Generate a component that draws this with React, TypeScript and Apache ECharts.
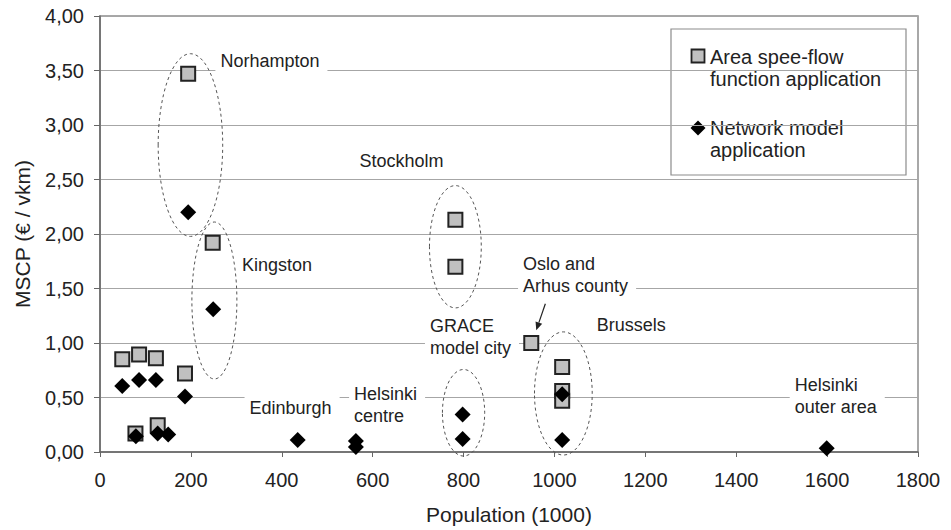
import React, { useEffect, useRef } from "react";
import * as echarts from "echarts";

const FONT = '"Liberation Sans", Arial, Helvetica, sans-serif';

// Area speed-flow function application (population in 1000, MSCP €/vkm)
const areaPoints: [number, number][] = [
  [194, 3.47],
  [248, 1.92],
  [782, 2.13],
  [782, 1.70],
  [949, 1.00],
  [1017, 0.78],
  [1017, 0.56],
  [1017, 0.47],
  [49, 0.85],
  [86, 0.895],
  [123, 0.86],
  [187, 0.72],
  [78, 0.17],
  [127, 0.245],
];

// Network model application
const networkPoints: [number, number][] = [
  [194, 2.20],
  [249, 1.31],
  [798, 0.345],
  [798, 0.12],
  [1017, 0.53],
  [1017, 0.11],
  [435, 0.11],
  [563, 0.10],
  [563, 0.045],
  [1599, 0.034],
  [49, 0.605],
  [86, 0.66],
  [123, 0.66],
  [187, 0.51],
  [79, 0.145],
  [127, 0.17],
  [150, 0.16],
];

// Dashed group ellipses: [centre x, centre y, radius x, radius y] in data units
const groupEllipses: number[][] = [
  [199, 2.816, 71, 0.838],
  [251.7, 1.39, 49.5, 0.72],
  [782, 1.883, 57, 0.561],
  [800, 0.36, 46.5, 0.397],
  [1019.6, 0.537, 63.5, 0.565],
];

// City labels, anchored (left edge, vertical centre) in data units
const cityLabels = [
  { name: "Norhampton", value: [252.8, 3.59] },
  { name: "Kingston", value: [300.5, 1.72] },
  { name: "Stockholm", value: [559, 2.667] },
  { name: "Oslo and\nArhus county", value: [918.8, 1.622] },
  { name: "GRACE\nmodel city", value: [714, 1.059] },
  { name: "Brussels", value: [1081, 1.163] },
  { name: "Edinburgh", value: [317, 0.406] },
  { name: "Helsinki\ncentre", value: [547, 0.427] },
  { name: "Helsinki\nouter area", value: [1516.6, 0.514] },
];

// Arrow from the Oslo label to its point: [x1, y1, x2, y2]
const arrows: number[][] = [[980, 1.36, 960, 1.117]];

const seriesNames = ["Area spee-flow\nfunction application", "Network model\napplication"];
const xAxisName = "Population (1000)";
const yAxisName = "MSCP (€ / vkm)";

export default function App() {
  const ref = useRef<HTMLDivElement>(null);

  useEffect(() => {
    document.body.style.margin = "0";
    if (!ref.current) return;
    const chart = echarts.init(ref.current, null, { renderer: "svg" });

    const option: any = {
      animation: false,
      backgroundColor: "#ffffff",
      textStyle: { fontFamily: FONT },
      grid: {
        left: 100,
        right: 33,
        top: 16,
        bottom: 78,
        show: true,
        borderColor: "#8c8c8c",
        borderWidth: 1.5,
        backgroundColor: "transparent",
      },
      xAxis: {
        type: "value",
        min: 0,
        max: 1800,
        interval: 200,
        name: xAxisName,
        nameLocation: "middle",
        nameGap: 52,
        nameTextStyle: { fontSize: 21, color: "#222", fontFamily: FONT },
        axisLine: { show: true, lineStyle: { color: "#666", width: 1.5 } },
        axisTick: { show: true, length: 5, lineStyle: { color: "#666" } },
        axisLabel: {
          fontSize: 20,
          color: "#222",
          margin: 18,
          fontFamily: FONT,
          formatter: (v: number) => String(v),
        },
        splitLine: { show: false },
      },
      yAxis: {
        type: "value",
        min: 0,
        max: 4,
        interval: 0.5,
        name: yAxisName,
        nameLocation: "middle",
        nameGap: 67,
        nameTextStyle: { fontSize: 21, color: "#222", fontFamily: FONT },
        axisLine: { show: true, lineStyle: { color: "#666", width: 1.5 } },
        axisTick: { show: true, length: 6, lineStyle: { color: "#666" } },
        axisLabel: {
          fontSize: 20,
          color: "#222",
          margin: 16,
          fontFamily: FONT,
          formatter: (v: number) => v.toFixed(2).replace(".", ","),
        },
        splitLine: { show: true, lineStyle: { color: "#a6a6a6", width: 1.2 } },
      },
      series: [
        {
          name: "labels",
          type: "scatter",
          z: 1,
          silent: true,
          symbol: "circle",
          symbolSize: 1,
          itemStyle: { color: "rgba(255,255,255,0)" },
          data: cityLabels,
          label: {
            show: true,
            position: "right",
            distance: 0,
            formatter: "{b}",
            fontSize: 18,
            lineHeight: 22,
            color: "#222",
            opacity: 1,
            fontFamily: FONT,
            backgroundColor: "#ffffff",
            padding: [2, 8, 2, 5],
            align: "left",
          },
        },
        {
          name: "ellipses",
          type: "custom",
          z: 3,
          silent: true,
          data: groupEllipses,
          renderItem: (params: any, api: any) => {
            const c = api.coord([api.value(0), api.value(1)]);
            const s = api.size([api.value(2), api.value(3)]);
            return {
              type: "ellipse",
              shape: { cx: c[0], cy: c[1], rx: s[0], ry: s[1] },
              style: { fill: "none", stroke: "#555", lineWidth: 1, lineDash: [3, 3] },
            };
          },
        },
        {
          name: "arrow",
          type: "custom",
          z: 3,
          silent: true,
          data: arrows,
          renderItem: (params: any, api: any) => {
            const p1 = api.coord([api.value(0), api.value(1)]);
            const p2 = api.coord([api.value(2), api.value(3)]);
            const dx = p2[0] - p1[0];
            const dy = p2[1] - p1[1];
            const len = Math.sqrt(dx * dx + dy * dy);
            const ux = dx / len;
            const uy = dy / len;
            const hl = 8;
            const hw = 3.5;
            const bx = p2[0] - ux * hl;
            const by = p2[1] - uy * hl;
            return {
              type: "group",
              children: [
                {
                  type: "line",
                  shape: { x1: p1[0], y1: p1[1], x2: bx, y2: by },
                  style: { stroke: "#222", lineWidth: 1.2 },
                },
                {
                  type: "polygon",
                  shape: {
                    points: [
                      [p2[0], p2[1]],
                      [bx - uy * hw, by + ux * hw],
                      [bx + uy * hw, by - ux * hw],
                    ],
                  },
                  style: { fill: "#222" },
                },
              ],
            };
          },
        },
        {
          name: seriesNames[0],
          type: "scatter",
          z: 4,
          symbol: "rect",
          symbolSize: 14,
          itemStyle: { color: "#c0c0c0", borderColor: "#222", borderWidth: 2, opacity: 1 },
          data: areaPoints,
        },
        {
          name: seriesNames[1],
          type: "scatter",
          z: 5,
          symbol: "diamond",
          symbolSize: 16,
          itemStyle: { color: "#000", opacity: 1 },
          data: networkPoints,
        },
      ],
      graphic: [
        {
          type: "group",
          x: 671,
          y: 29,
          z: 10,
          silent: true,
          children: [
            {
              type: "rect",
              shape: { x: 0, y: 0, width: 235, height: 146 },
              style: { fill: "#ffffff", stroke: "#8c8c8c", lineWidth: 1.2 },
            },
            {
              type: "rect",
              shape: { x: 20.5, y: 20.5, width: 13, height: 13 },
              style: { fill: "#c0c0c0", stroke: "#222", lineWidth: 1.8 },
            },
            {
              type: "polygon",
              shape: {
                points: [
                  [27, 91.5],
                  [34.5, 99],
                  [27, 106.5],
                  [19.5, 99],
                ],
              },
              style: { fill: "#000" },
            },
            {
              type: "text",
              x: 39,
              y: 16.5,
              style: {
                text: seriesNames[0],
                font: `20px ${FONT}`,
                lineHeight: 22.3,
                fill: "#222",
                verticalAlign: "top",
                align: "left",
              },
            },
            {
              type: "text",
              x: 39,
              y: 88,
              style: {
                text: seriesNames[1],
                font: `20px ${FONT}`,
                lineHeight: 22,
                fill: "#222",
                verticalAlign: "top",
                align: "left",
              },
            },
          ],
        },
      ],
    };

    chart.setOption(option);
    return () => chart.dispose();
  }, []);

  return <div ref={ref} style={{ width: 951, height: 530 }} />;
}
